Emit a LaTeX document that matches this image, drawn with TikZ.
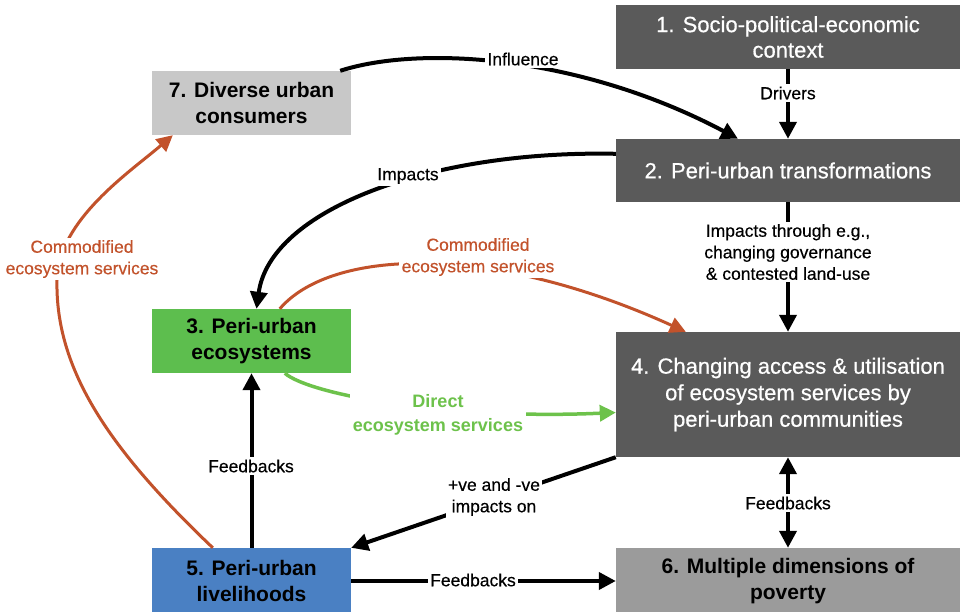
\documentclass[tikz,border=0pt]{standalone}
\usepackage{fontspec}
\setmainfont{Liberation Sans}
\newfontfamily\medfont{Liberation Sans}[FakeBold=0.6]
\newfontfamily\lblfont{Liberation Sans}[FakeBold=0.35]
\usetikzlibrary{arrows.meta,calc}
\definecolor{dkgray}{HTML}{5A5A5A}
\definecolor{ltgray}{HTML}{C8C8C8}
\definecolor{mdgray}{HTML}{9B9B9B}
\definecolor{boxgreen}{HTML}{5DBE4E}
\definecolor{boxblue}{HTML}{4A80C3}
\definecolor{orng}{HTML}{C2522B}
\definecolor{grn}{HTML}{6DC24B}
\begin{document}
\begin{tikzpicture}[x=1pt,y=-1pt,
  box/.style={rectangle, inner sep=0pt, align=center},
  dark/.style={box, fill=dkgray, text=white, font=\medfont\fontsize{22}{25.5}\selectfont},
  lite/.style={box, text=black, font=\bfseries\fontsize{21}{26.5}\selectfont},
  conn/.style={line width=4pt, -{Triangle[length=17pt,width=17pt]}},
  dconn/.style={line width=4pt, {Triangle[length=17pt,width=17pt]}-{Triangle[length=17pt,width=17pt]}},
  oconn/.style={draw=orng, line width=3pt, -{Triangle[length=16pt,width=16pt]}, color=orng},
  gconn/.style={draw=grn, line width=3.5pt, -{Triangle[length=16pt,width=16pt]}, color=grn},
  lbl/.style={fill=white, inner sep=2.5pt, align=center, font=\lblfont\fontsize{17.5}{21.5}\selectfont},
  olbl/.style={lbl, text=orng},
  glbl/.style={lbl, text=grn, font=\bfseries\fontsize{18}{24.5}\selectfont},
]
\clip (0,0) rectangle (963,612);
\fill[white] (0,0) rectangle (963,612);

% boxes
\node[dark, minimum width=344pt, minimum height=64pt] (n1) at (788,37) {1. Socio-political-economic\\context};
\node[dark, minimum width=344pt, minimum height=63pt] (n2) at (788,170.5) {2. Peri-urban transformations};
\node[lite, fill=ltgray, minimum width=199pt, minimum height=64pt] (n7) at (251.5,103) {7. Diverse urban\\consumers};
\node[lite, fill=boxgreen, minimum width=199pt, minimum height=64pt] (n3) at (251.5,341) {3. Peri-urban\\ecosystems};
\node[dark, minimum width=344pt, minimum height=125pt, font=\medfont\fontsize{22}{26.5}\selectfont] (n4) at (788,394.5) {4. Changing access \& utilisation\\of ecosystem services by\\peri-urban communities};
\node[lite, fill=boxblue, minimum width=199pt, minimum height=66pt] (n5) at (251.5,581) {5. Peri-urban\\livelihoods};
\node[lite, fill=mdgray, minimum width=344pt, minimum height=66pt] (n6) at (788,581) {6. Multiple dimensions of\\poverty};

% connectors
\draw[conn] (n1.south) -- (n2.north);
\draw[conn] (n2.south) -- (n4.north);
\draw[dconn] (n4.south) -- (n6.north);
\draw[conn] (n5.north) -- (n3.south);
\draw[conn] (n5.east) -- (n6.west);
\draw[conn] (n4.south west) -- (n5.north east);
\draw[conn] ($(n7.north east)+(-11,0)$) .. controls (420,45) and (580,55) .. ($(n2.north)+(-50,0)$);
\draw[conn] ($(n2.north west)+(0,15)$) .. controls (430,150) and (270,210) .. ($(n3.north)+(5,0)$);
\draw[oconn] ($(n3.north west)+(128,0)$) .. controls (330,250) and (486,241) .. ($(n4.north west)+(70,0)$);
\draw[gconn] ($(n3.south west)+(133,0)$) .. controls (310,395) and (450,420) .. ($(n4.west)+(0,18)$);
\draw[oconn] ($(n5.north west)+(61,0)$) .. controls (110,450) and (55,370) .. (57,280) .. controls (58,220) and (130,172) .. ($(n7.south west)+(21,0)$);

% labels
\node[lbl] (l1) at (523,59) {Influence};
\node[lbl] (l2) at (788,93) {Drivers};
\node[lbl] (l3) at (408,176) {Impacts};
\node[lbl] (l4) at (788,252) {Impacts through e.g.,\\changing governance\\\& contested land-use};
\node[olbl] (l5) at (478,257) {Commodified\\ecosystem services};
\node[olbl] (l6) at (82,259) {Commodified\\ecosystem services};
\node[glbl] (l7) at (438,415) {Direct\\ecosystem services};
\node[lbl] (l8) at (251,466) {Feedbacks};
\node[lbl] (l9) at (494,497) {+ve and -ve\\impacts on};
\node[lbl] (l10) at (473,580) {Feedbacks};
\node[lbl] (l11) at (788,503) {Feedbacks};
\end{tikzpicture}
\end{document}
